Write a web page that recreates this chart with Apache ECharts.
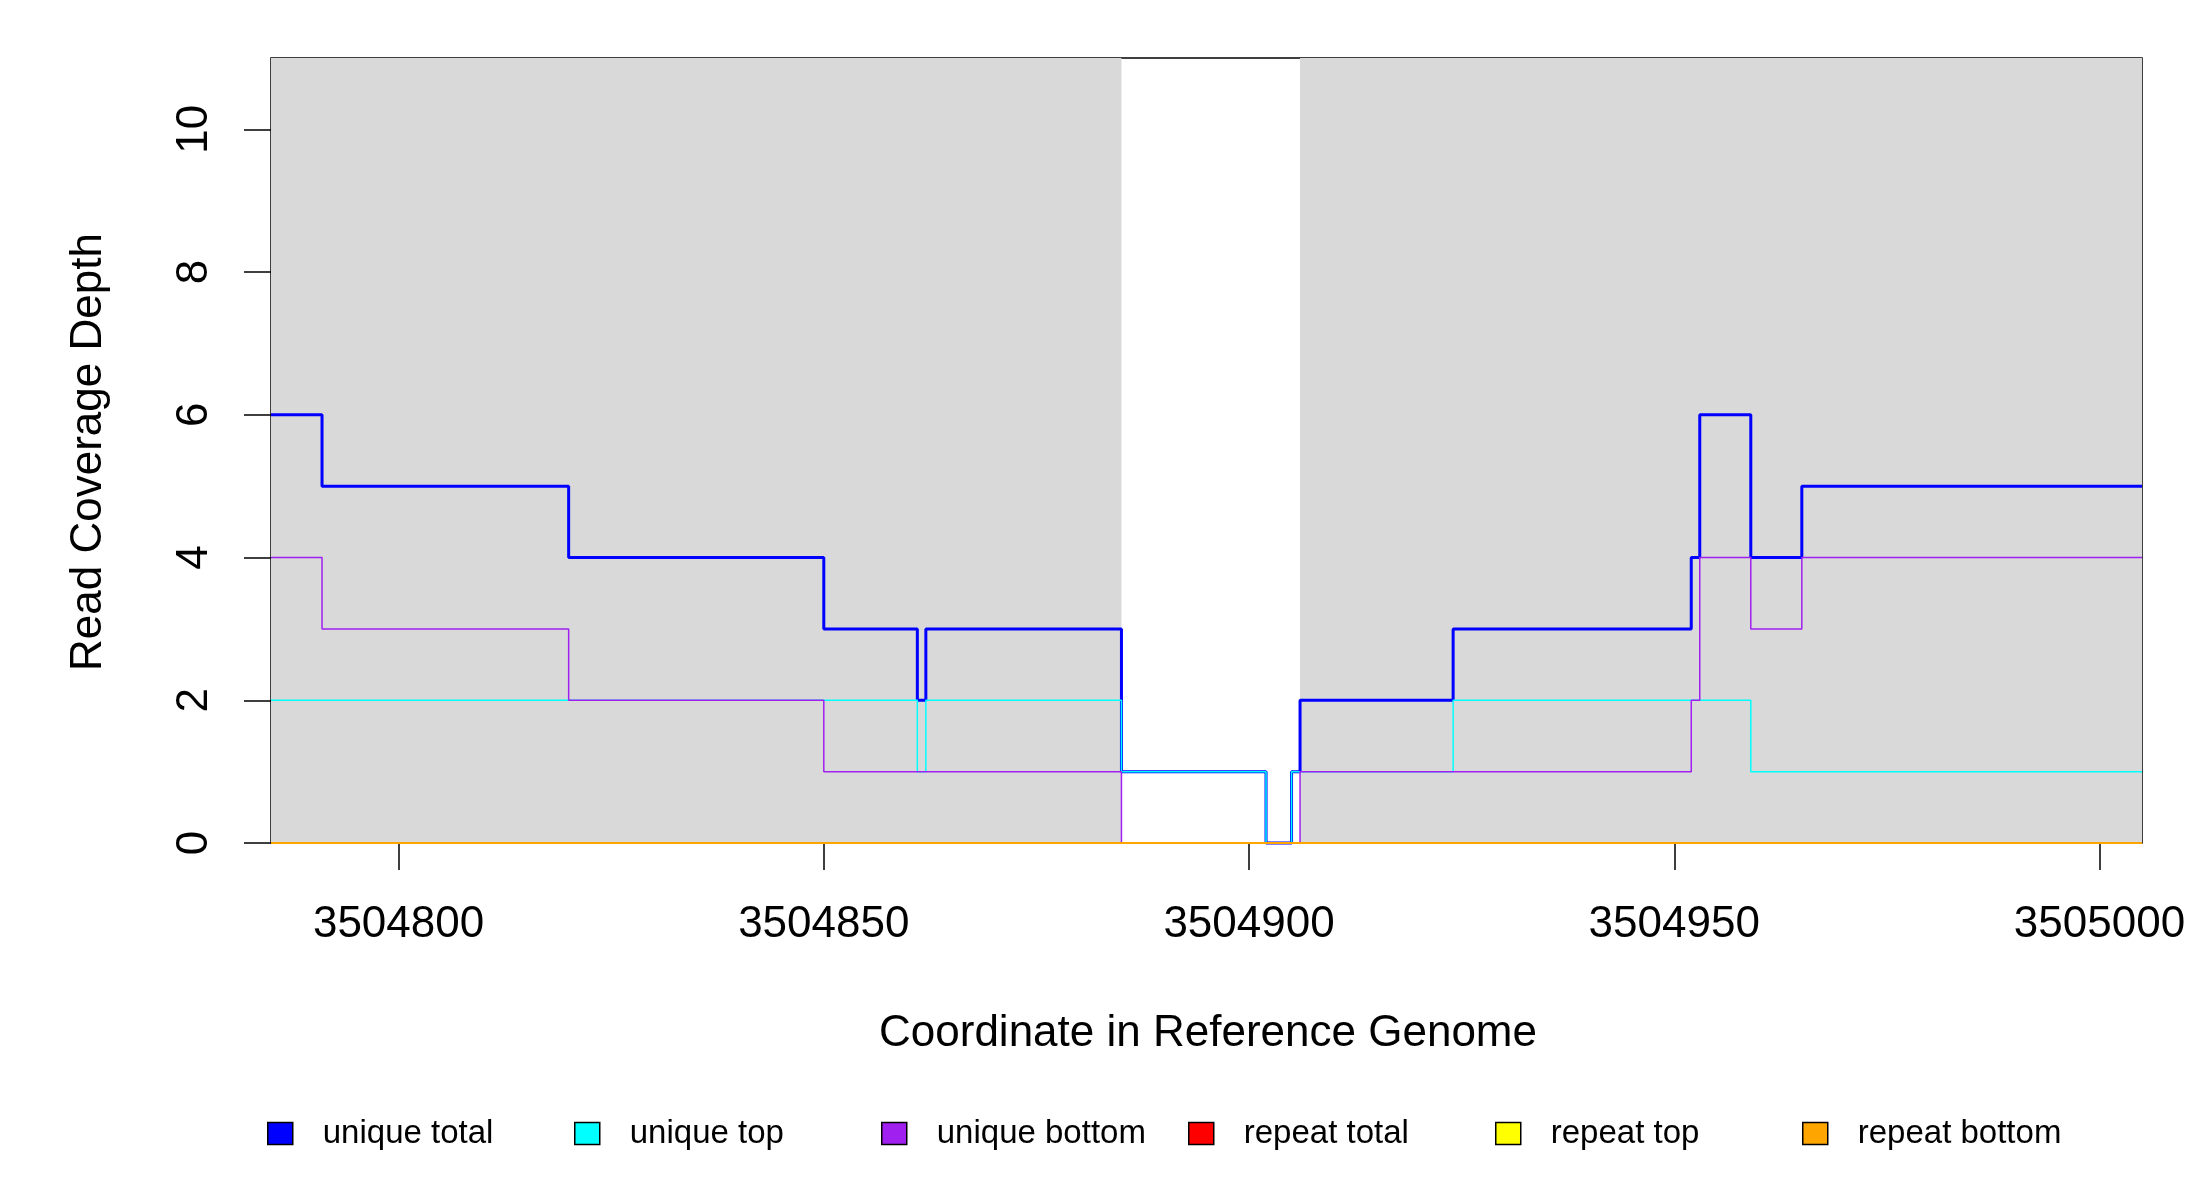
<!DOCTYPE html>
<html>
<head>
<meta charset="utf-8">
<script src="https://cdn.jsdelivr.net/npm/echarts@6/dist/echarts.min.js"></script>
<style>
  html, body { margin: 0; padding: 0; background: #fff; }
  #chart { width: 2200px; height: 1200px; }
</style>
</head>
<body>
<div id="chart"></div>
<script>
// axis ranges and ticks
const xRange = [3504785, 3505005]
const yRange = [0, 11]
const xTicks = [3504800, 3504850, 3504900, 3504950, 3505000]
const yTicks = [0, 2, 4, 6, 8, 10]

// shaded (gray) regions of the reference
const shadedRanges = [
    [3504785, 3504885],
    [3504906, 3505005],
]

// step coverage: value holds from pos[i] to pos[i+1]
const uniqueTotalPos = [3504785, 3504791, 3504820, 3504850, 3504861, 3504862, 3504885, 3504902, 3504905, 3504906, 3504924, 3504952, 3504953, 3504959, 3504965, 3505005]
const uniqueTotalDepth = [6, 5, 4, 3, 2, 3, 1, 0, 1, 2, 3, 4, 6, 4, 5, 5]

const uniqueTopPos = [3504785, 3504861, 3504862, 3504885, 3504902, 3504905, 3504924, 3504959, 3505005]
const uniqueTopDepth = [2, 1, 2, 1, 0, 1, 2, 1, 1]

const uniqueBottomPos = [3504785, 3504791, 3504820, 3504850, 3504885, 3504906, 3504952, 3504953, 3504959, 3504965, 3505005]
const uniqueBottomDepth = [4, 3, 2, 1, 0, 1, 2, 4, 3, 4, 4]

const repeatTotalPos = [3504785, 3505005]
const repeatTotalDepth = [0, 0]
const repeatTopPos = [3504785, 3505005]
const repeatTopDepth = [0, 0]
const repeatBottomPos = [3504785, 3505005]
const repeatBottomDepth = [0, 0]

const seriesNames = ['unique total', 'unique top', 'unique bottom', 'repeat total', 'repeat top', 'repeat bottom']
const seriesColors = ['#0000ff', '#00ffff', '#a020f0', '#ff0000', '#ffff00', '#ffa500']
const seriesWidths = [3, 1.5, 1.5, 1.5, 1.5, 2]
const seriesData = [
    [uniqueTotalPos, uniqueTotalDepth],
    [uniqueTopPos, uniqueTopDepth],
    [uniqueBottomPos, uniqueBottomDepth],
    [repeatTotalPos, repeatTotalDepth],
    [repeatTopPos, repeatTopDepth],
    [repeatBottomPos, repeatBottomDepth],
]

const FONT = 'Liberation Sans, Arial, sans-serif'

function zip(pos, depth) {
    return pos.map((p, i) => [p, depth[i]])
}

const chart = echarts.init(document.getElementById('chart'), null, { renderer: 'canvas' })

// gray background regions, drawn under the lines
const shadeSeries = {
    type: 'line',
    name: 'shade',
    data: [],
    silent: true,
    z: 1,
    markArea: {
        silent: true,
        itemStyle: { color: '#d9d9d9' },
        data: shadedRanges.map(r => [{ xAxis: r[0] }, { xAxis: r[1] }]),
    },
}

const lineSeries = seriesNames.map((name, i) => ({
    type: 'line',
    name: name,
    step: 'end',
    showSymbol: false,
    clip: false,
    z: 2 + i,
    color: seriesColors[i],
    lineStyle: { color: seriesColors[i], width: seriesWidths[i] },
    data: zip(seriesData[i][0], seriesData[i][1]),
}))

// one legend per entry so the spacing is fixed like in R
const legendLeft = [267, 574, 881, 1188, 1495, 1802]
const legends = seriesNames.map((name, i) => ({
    data: [name],
    left: legendLeft[i],
    top: 1117,
    padding: 0,
    icon: 'rect',
    itemWidth: 25,
    itemHeight: 22,
    selectedMode: false,
    itemStyle: { borderColor: '#000', borderWidth: 1.5 },
    textStyle: {
        fontFamily: FONT,
        fontSize: 33,
        color: '#000',
        padding: [0, 0, 0, 25],
    },
}))

const option = {
    backgroundColor: '#fff',
    animation: false,
    grid: {
        left: 271,
        right: 58,
        top: 58,
        bottom: 357,
        show: true,
        borderColor: '#000',
        borderWidth: 1.5,
        backgroundColor: 'transparent',
    },
    legend: legends,
    xAxis: {
        type: 'value',
        min: xRange[0],
        max: xRange[1],
        axisLine: { show: false },
        splitLine: { show: false },
        axisTick: {
            show: true,
            inside: false,
            length: 27,
            customValues: xTicks,
            lineStyle: { color: '#000', width: 1.5 },
        },
        axisLabel: {
            customValues: xTicks,
            margin: 60,
            fontFamily: FONT,
            fontSize: 44,
            color: '#000',
            formatter: v => String(v),
        },
    },
    yAxis: {
        type: 'value',
        min: yRange[0],
        max: yRange[1],
        axisLine: { show: false },
        splitLine: { show: false },
        axisTick: {
            show: true,
            inside: false,
            length: 27,
            customValues: yTicks,
            lineStyle: { color: '#000', width: 1.5 },
        },
        axisLabel: {
            customValues: yTicks,
            rotate: 90,
            margin: 54,
            fontFamily: FONT,
            fontSize: 44,
            color: '#000',
        },
    },
    graphic: [
        {
            type: 'text',
            x: 1208,
            y: 1034,
            style: {
                text: 'Coordinate in Reference Genome',
                fontFamily: FONT,
                fontSize: 44,
                fill: '#000',
                textAlign: 'center',
                textVerticalAlign: 'middle',
            },
        },
        {
            type: 'text',
            x: 89,
            y: 452,
            rotation: Math.PI / 2,
            style: {
                text: 'Read Coverage Depth',
                fontFamily: FONT,
                fontSize: 44,
                fill: '#000',
                textAlign: 'center',
                textVerticalAlign: 'middle',
            },
        },
    ],
    series: [shadeSeries, ...lineSeries],
}

chart.setOption(option)
</script>
</body>
</html>
